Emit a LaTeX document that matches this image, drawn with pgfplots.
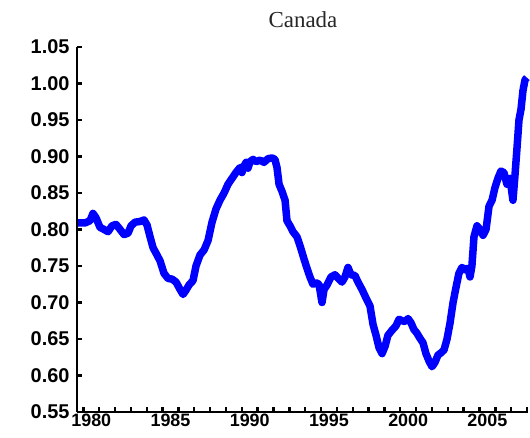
\documentclass[border=0pt]{standalone}
\usepackage{fontspec}
\setmainfont{Liberation Serif}
\newfontfamily\labfont{Liberation Sans}
\usepackage{pgfplots}
\pgfplotsset{compat=1.18}
\begin{document}
\begin{tikzpicture}[x=1bp,y=1bp]
\path[use as bounding box] (0,0) rectangle (530,438);
\node[font=\fontsize{23}{26}\selectfont, text=black!85] at (303,418) {Canada};
\begin{axis}[
  at={(77bp,26bp)}, anchor=south west,
  scale only axis, width=451bp, height=365bp,
  xmin=1979.6, xmax=2008.06, ymin=0.55, ymax=1.05,
  axis x line=bottom, axis y line=left,
  axis line style={-, line width=2.8bp, black},
  tick align=inside,
  major tick length=5bp,
  tick style={line width=2.4bp, black},
  xtick={1980,...,2008}, xticklabels={},
  extra x ticks={1980.5,1985.5,1990.5,1995.5,2000.5,2005.5},
  extra x tick labels={1980,1985,1990,1995,2000,2005},
  extra x tick style={major tick length=0pt, tick style={draw=none}},
  ytick={0.55,0.60,...,1.06},
  /pgf/number format/assume math mode=true,
  /pgf/number format/fixed,
  /pgf/number format/fixed zerofill,
  /pgf/number format/precision=2,
  y tick label style={font=\labfont\bfseries\fontsize{20}{22}\selectfont, xshift=-4bp},
  x tick label style={font=\labfont\bfseries\fontsize{18}{20}\selectfont, yshift=2bp},
  clip=false,
]
\addplot[color={rgb,255:red,0;green,0;blue,255}, line width=7.5bp, line join=round] table {
x y
1979.67 0.809
1980.11 0.809
1980.42 0.812
1980.61 0.822
1980.80 0.816
1981.05 0.803
1981.31 0.800
1981.56 0.797
1981.81 0.805
1982.06 0.807
1982.32 0.800
1982.57 0.793
1982.82 0.795
1983.01 0.805
1983.26 0.810
1983.58 0.811
1983.83 0.813
1984.02 0.806
1984.21 0.790
1984.40 0.775
1984.65 0.765
1984.84 0.757
1985.09 0.740
1985.34 0.733
1985.60 0.732
1985.85 0.728
1986.10 0.718
1986.29 0.711
1986.48 0.717
1986.67 0.724
1986.92 0.730
1987.11 0.750
1987.36 0.765
1987.62 0.772
1987.87 0.785
1988.12 0.810
1988.37 0.828
1988.62 0.840
1988.88 0.850
1989.13 0.862
1989.38 0.870
1989.63 0.878
1989.89 0.885
1990.01 0.878
1990.14 0.887
1990.27 0.892
1990.39 0.884
1990.52 0.893
1990.71 0.896
1990.90 0.893
1991.15 0.895
1991.40 0.892
1991.65 0.897
1991.91 0.898
1992.09 0.896
1992.22 0.885
1992.35 0.862
1992.54 0.852
1992.73 0.840
1992.85 0.812
1993.04 0.805
1993.23 0.797
1993.48 0.790
1993.67 0.778
1993.92 0.760
1994.11 0.747
1994.30 0.735
1994.49 0.725
1994.68 0.727
1994.87 0.725
1995.06 0.700
1995.19 0.718
1995.38 0.724
1995.63 0.735
1995.88 0.738
1996.13 0.732
1996.32 0.728
1996.51 0.735
1996.70 0.748
1996.89 0.738
1997.14 0.737
1997.33 0.728
1997.58 0.718
1997.84 0.706
1998.09 0.695
1998.28 0.670
1998.47 0.655
1998.66 0.638
1998.85 0.630
1999.04 0.640
1999.22 0.655
1999.48 0.662
1999.73 0.668
1999.92 0.677
2000.11 0.675
2000.30 0.674
2000.49 0.678
2000.68 0.672
2000.86 0.663
2001.05 0.658
2001.24 0.651
2001.43 0.645
2001.62 0.630
2001.81 0.620
2002.00 0.612
2002.19 0.618
2002.38 0.628
2002.57 0.631
2002.76 0.635
2002.95 0.650
2003.14 0.672
2003.33 0.700
2003.51 0.720
2003.70 0.740
2003.89 0.748
2004.08 0.745
2004.27 0.747
2004.40 0.735
2004.52 0.750
2004.65 0.790
2004.84 0.805
2005.03 0.800
2005.22 0.792
2005.41 0.800
2005.60 0.832
2005.79 0.840
2005.97 0.857
2006.16 0.870
2006.35 0.880
2006.54 0.878
2006.73 0.862
2006.92 0.870
2007.11 0.840
2007.24 0.875
2007.36 0.910
2007.49 0.950
2007.62 0.965
2007.74 0.990
2007.87 1.005
2007.99 1.008
};
\end{axis}
\end{tikzpicture}
\end{document}
